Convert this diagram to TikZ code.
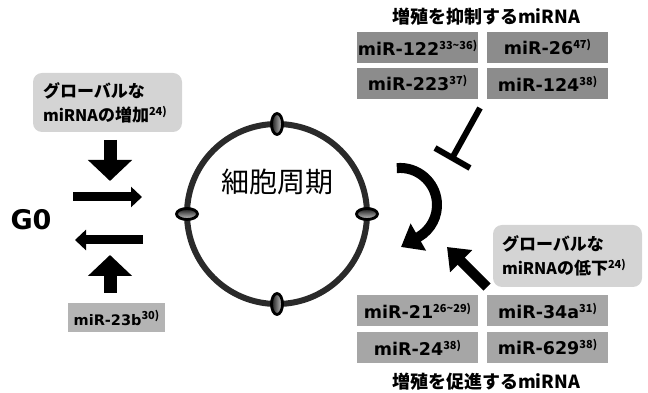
\documentclass[tikz,border=0pt]{standalone}
\usepackage{fontspec}
\setmainfont{DejaVu Sans}
\newfontfamily\jp{Noto Sans CJK JP}
\usetikzlibrary{arrows.meta,shapes.geometric}
\definecolor{boxdark}{HTML}{8C8C8C}
\definecolor{boxmid}{HTML}{A6A6A6}
\definecolor{boxsmall}{HTML}{B4B4B4}
\definecolor{boxlight}{HTML}{D4D4D4}
\definecolor{ringcol}{HTML}{2A2A2A}
\newcommand\rsup[1]{\raisebox{6pt}{\jp\fontsize{11}{11}\selectfont\bfseries #1}}
\newcommand\Lat[2]{{\fontsize{#1}{24}\selectfont #2}}
\begin{document}
\begin{tikzpicture}[x=1pt,y=1pt,
  mirbox/.style={minimum width=121pt, minimum height=31pt, inner sep=0pt, fill=#1,
    font=\fontsize{17.5}{20}\selectfont\bfseries},
  rbox/.style={rounded corners=9pt, fill=boxlight, align=left, inner xsep=10pt,
    inner ysep=0pt, text width=129pt, minimum width=149pt,
    font=\jp\fontsize{17}{24}\selectfont\bfseries},
  ttl/.style={font=\jp\fontsize{18}{22}\selectfont\bfseries, inner sep=0pt},
  fatarrow/.style={line width=13pt, -{Triangle[width=43pt,length=21pt]}},
  thinarrow/.style={line width=9pt, -{Triangle[width=20pt,length=11pt]}},
  curvearrow/.style={line width=10pt, -{Triangle[width=30pt,length=20pt]}},
  diagarrow/.style={line width=10pt, -{Triangle[width=30pt,length=20pt]}},
  vmark/.style={ellipse, draw=black, line width=2.8pt, minimum width=11pt, minimum height=21pt,
    inner sep=0pt, left color=black!90, right color=gray!40},
  hmark/.style={ellipse, draw=black, line width=2.8pt, minimum width=21pt, minimum height=11pt,
    inner sep=0pt, top color=black!90, bottom color=gray!40},
]
\useasboundingbox (0,0) rectangle (648,393);

% titles
\node[ttl] (ttop) at (486,376.5) {増殖を抑制するmiRNA};
\node[ttl] (tbot) at (486,11) {増殖を促進するmiRNA};

% top boxes (inhibit proliferation)
\node[mirbox=boxdark] (b122) at (417.5,345.5) {miR-122\rsup{33\textasciitilde36)}};
\node[mirbox=boxdark] (b26)  at (547.5,345.5) {miR-26\rsup{47)}};
\node[mirbox=boxdark] (b223) at (417.5,309.5) {miR-223\rsup{37)}};
\node[mirbox=boxdark] (b124) at (547.5,309.5) {miR-124\rsup{38)}};

% bottom boxes (promote proliferation)
\node[mirbox=boxmid] (b21)  at (417.5,82) {miR-21\rsup{26\textasciitilde29)}};
\node[mirbox=boxmid] (b34)  at (547.5,82) {miR-34a\rsup{31)}};
\node[mirbox=boxmid] (b24)  at (417.5,45.5) {miR-24\rsup{38)}};
\node[mirbox=boxmid] (b629) at (547.5,45.5) {miR-629\rsup{38)}};

% left rounded box
\node[rbox, minimum height=59pt] (gup) at (107.5,290.5)
  {グローバルな\\\Lat{16}{miRNA}の増加\rsup{24)}};
% right rounded box
\node[rbox, minimum height=62pt, inner xsep=9pt, text width=131pt] (gdown) at (567.5,137)
  {グローバルな\\\Lat{16}{miRNA}の低下\rsup{24)}};

% miR-23b
\node[minimum width=97pt, minimum height=29pt, inner sep=0pt, fill=boxsmall,
  font=\fontsize{14.5}{16}\selectfont\bfseries] (b23b) at (116.5,75.5) {miR-23b\rsup{30)}};

% G0
\node[font=\fontsize{27}{28}\selectfont\bfseries, inner sep=0pt] (g0) at (31,173) {G0};

% cell cycle ring
\node[circle, draw=ringcol, line width=6pt, minimum size=180pt, inner sep=0pt, outer sep=0pt]
  (cyc) at (277,179) {};
\node[font=\jp\fontsize{28}{30}\selectfont, inner sep=0pt] (cyctxt) at (277,211) {細胞周期};
\node[vmark] (mN) at (cyc.north) {};
\node[vmark] (mS) at (cyc.south) {};
\node[hmark] (mW) at (cyc.west) {};
\node[hmark] (mE) at (cyc.east) {};

% left arrows
\coordinate (dn1) at (110,253);
\coordinate (dn2) at (110,212);
\coordinate (up1) at (110,100);
\coordinate (up2) at (110,138);
\coordinate (ra1) at (73,196);
\coordinate (ra2) at (142,196);
\coordinate (la1) at (143,153);
\coordinate (la2) at (75,153);
\draw[fatarrow] (dn1) -- (dn2);
\draw[fatarrow] (up1) -- (up2);
\draw[thinarrow] (ra1) -- (ra2);
\draw[thinarrow] (la1) -- (la2);

% inhibition bar
\coordinate (in1) at (480,285);
\coordinate (in2) at (452.5,235.5);
\coordinate (tb1) at (435,245);
\coordinate (tb2) at (470,225);
\draw[line width=6pt] (in1) -- (in2);
\draw[line width=6pt] (tb1) -- (tb2);

% curved arrow
\coordinate (cA) at (396.8,224.9);
\coordinate (cTip) at (401,146);
\draw[curvearrow] (cA) arc[start angle=95, end angle=-60, radius=37] -- (cTip);

% diagonal arrow
\coordinate (dA) at (487,106);
\coordinate (dB) at (447,146);
\draw[diagarrow] (dA) -- (dB);
\end{tikzpicture}
\end{document}
